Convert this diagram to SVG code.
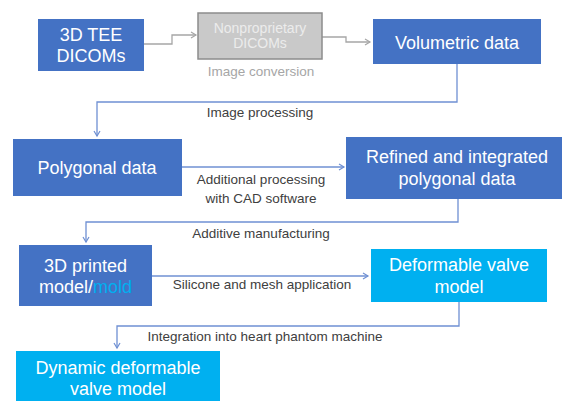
<svg xmlns="http://www.w3.org/2000/svg" width="563" height="401" viewBox="0 0 563 401">
  <defs>
    <style>
      .box-dark { fill: #4472c4; }
      .box-light { fill: #00b0f0; }
      .box-grey { fill: #c9c9c9; stroke: #8c8c8c; stroke-width: 1.5; }
      .node-text { font-family: "Liberation Sans", Arial, sans-serif; font-size: 18px; fill: #ffffff; text-anchor: middle; }
      .grey-text { font-family: "Liberation Sans", Arial, sans-serif; font-size: 14px; fill: #ececec; text-anchor: middle; }
      .label { font-family: "Liberation Sans", Arial, sans-serif; font-size: 13.5px; fill: #404040; text-anchor: middle; }
      .label-grey { font-family: "Liberation Sans", Arial, sans-serif; font-size: 13.5px; fill: #a6a6a6; text-anchor: middle; }
      .link { fill: none; stroke: #6f90d3; stroke-width: 1.3; }
      .link-grey { fill: none; stroke: #a6a6a6; stroke-width: 1.3; }
      .mold { fill: #00b0f0; }
    </style>
    <marker id="arrow-blue" markerUnits="userSpaceOnUse" markerWidth="8" markerHeight="8" viewBox="0 0 8 8" refX="6" refY="4" orient="auto">
      <path d="M1,1 L6,4 L1,7" fill="none" stroke="#6f90d3" stroke-width="1.2"/>
    </marker>
    <marker id="arrow-grey" markerUnits="userSpaceOnUse" markerWidth="8" markerHeight="8" viewBox="0 0 8 8" refX="6" refY="4" orient="auto">
      <path d="M1,1 L6,4 L1,7" fill="none" stroke="#a6a6a6" stroke-width="1.2"/>
    </marker>
  </defs>

  <rect width="563" height="401" fill="#ffffff"/>

  <!-- connectors -->
  <g id="connectors">
    <path class="link-grey" d="M144,44 H172 V35 H196" marker-end="url(#arrow-grey)"/>
    <path class="link-grey" d="M322,37 H346 V42 H370" marker-end="url(#arrow-grey)"/>
    <path class="link" d="M457,64 V102 H97 V136" marker-end="url(#arrow-blue)"/>
    <path class="link" d="M182,167 H344" marker-end="url(#arrow-blue)"/>
    <path class="link" d="M458,199 V222 H86 V242" marker-end="url(#arrow-blue)"/>
    <path class="link" d="M152,276 H368" marker-end="url(#arrow-blue)"/>
    <path class="link" d="M459,302 V326 H117 V348" marker-end="url(#arrow-blue)"/>

    <text class="label-grey" x="261" y="76">Image conversion</text>
    <text class="label" x="260" y="117">Image processing</text>
    <text class="label" x="261" y="184">Additional processing</text>
    <text class="label" x="261" y="203">with CAD software</text>
    <text class="label" x="261" y="238">Additive manufacturing</text>
    <text class="label" x="262" y="289">Silicone and mesh application</text>
    <text class="label" x="265" y="341">Integration into heart phantom machine</text>
  </g>

  <g id="tee-dicoms">
    <rect class="box-dark" x="38" y="19" width="106" height="52"/>
    <text class="node-text" x="91" y="40.5">3D TEE</text>
    <text class="node-text" x="91" y="61.5">DICOMs</text>
  </g>

  <g id="nonproprietary-dicoms">
    <rect class="box-grey" x="198" y="13" width="124" height="46"/>
    <text class="grey-text" x="260" y="33">Nonproprietary</text>
    <text class="grey-text" x="260" y="48">DICOMs</text>
  </g>

  <g id="volumetric-data">
    <rect class="box-dark" x="373" y="19" width="168" height="45"/>
    <text class="node-text" x="457" y="48.5">Volumetric data</text>
  </g>

  <g id="polygonal-data">
    <rect class="box-dark" x="13" y="139" width="169" height="57"/>
    <text class="node-text" x="97" y="173.5">Polygonal data</text>
  </g>

  <g id="refined-polygonal-data">
    <rect class="box-dark" x="346" y="137" width="216" height="62"/>
    <text class="node-text" x="457" y="162.5">Refined and integrated</text>
    <text class="node-text" x="457" y="184.5">polygonal data</text>
  </g>

  <g id="printed-model">
    <rect class="box-dark" x="19" y="245" width="133" height="61"/>
    <text class="node-text" x="85.5" y="271.5">3D printed</text>
    <text class="node-text" x="85.5" y="292.5">model/<tspan class="mold">mold</tspan></text>
  </g>

  <g id="deformable-valve-model">
    <rect class="box-light" x="371" y="249" width="176" height="53"/>
    <text class="node-text" x="459" y="270.5">Deformable valve</text>
    <text class="node-text" x="459" y="292.5">model</text>
  </g>

  <g id="dynamic-valve-model">
    <rect class="box-light" x="16" y="351" width="204" height="52"/>
    <text class="node-text" x="118" y="373.5">Dynamic deformable</text>
    <text class="node-text" x="118" y="394.5">valve model</text>
  </g>
</svg>
